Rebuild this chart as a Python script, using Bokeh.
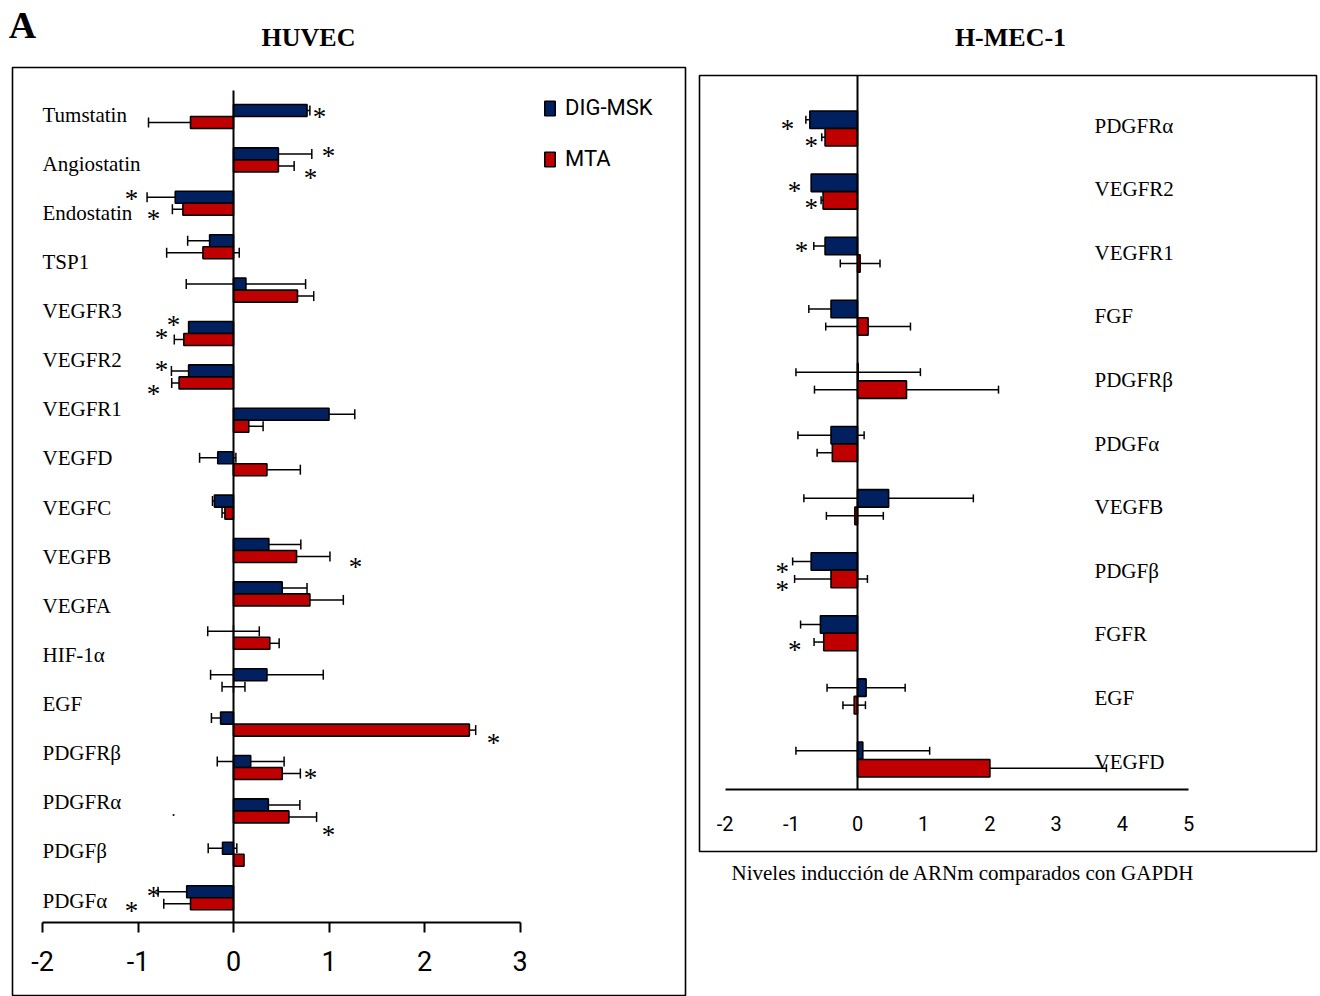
import numpy as np
from bokeh.plotting import figure
from bokeh.models import (ColumnDataSource, Range1d, LinearAxis, FixedTicker, Whisker,
                          TeeHead, Legend, LegendItem, Label, BoxAnnotation)
from bokeh.layouts import row
from bokeh.embed import file_html
from bokeh.resources import INLINE
from bokeh.core.properties import value

# ---------------- data: HUVEC (left) ----------------
left_labels = ["Tumstatin", "Angiostatin", "Endostatin", "TSP1", "VEGFR3", "VEGFR2", "VEGFR1",
               "VEGFD", "VEGFC", "VEGFB", "VEGFA", "HIF-1α", "EGF", "PDGFRβ", "PDGFRα",
               "PDGFβ", "PDGFα"]
left_dig = [0.77, 0.47, -0.61, -0.25, 0.13, -0.47, -0.47, 1.00, -0.165, -0.20, 0.37, 0.51,
            0.0, 0.35, -0.135, 0.18, 0.365, -0.115, -0.49]
left_dig_err = [0.03, 0.35, 0.295, 0.23, 0.625, 0.0, 0.18, 0.27, 0.19, 0.02, 0.335, 0.26,
                0.27, 0.59, 0.096, 0.35, 0.33, 0.15, 0.30]
left_mta = [-0.45, 0.47, -0.53, -0.32, 0.67, -0.52, -0.57, 0.16, 0.35, -0.09, 0.66, 0.80,
            0.38, 0.0, 2.47, 0.51, 0.58, 0.11, -0.45]
left_mta_err = [0.44, 0.165, 0.11, 0.38, 0.17, 0.10, 0.077, 0.15, 0.35, 0.03, 0.35, 0.35,
                0.098, 0.12, 0.066, 0.19, 0.29, 0.0, 0.28]
left_ticks = [-2, -1, 0, 1, 2, 3]
# significance marks (x value, row position)
left_sig_x = [0.90, 0.995, 0.806, -1.068, -0.838, -0.628, -0.754, -0.754, -0.838, 1.277,
              2.722, 0.806, 0.995, -0.838, -1.068]
left_sig_y = [-0.09, 0.80, 1.31, 1.80, 2.26, 4.70, 5.00, 5.74, 6.29, 10.28, 14.33, 15.14,
              16.45, 17.86, 18.20]

# ---------------- data: H-MEC-1 (right) ----------------
right_labels = ["PDGFRα", "VEGFR2", "VEGFR1", "FGF", "PDGFRβ", "PDGFα", "VEGFB", "PDGFβ",
                "FGFR", "EGF", "VEGFD"]
right_dig = [-0.72, -0.70, -0.49, -0.40, 0.01, -0.40, 0.47, -0.70, -0.56, 0.13, 0.08]
right_dig_err = [0.06, 0.0, 0.17, 0.335, 0.94, 0.5, 1.28, 0.28, 0.30, 0.59, 1.01]
right_mta = [-0.49, -0.52, 0.04, 0.16, 0.74, -0.38, -0.04, -0.40, -0.51, -0.05, 2.0]
right_mta_err = [0.05, 0.03, 0.30, 0.64, 1.39, 0.23, 0.43, 0.55, 0.146, 0.17, 1.76]
right_ticks = [-2, -1, 0, 1, 2, 3, 4, 5]
right_sig_x = [-1.057, -0.70, -0.952, -0.70, -0.846, -1.137, -1.137, -0.947]
right_sig_y = [-0.06, 0.20, 0.92, 1.19, 1.87, 6.96, 7.24, 8.19]

BLUE = "#002060"
RED = "#C00000"
SERIF = "Liberation Serif"
SANS = "Roboto"


def bars_panel(p, dig, dig_err, mta, mta_err, bar_h, cap):
    n = len(dig)
    idx = np.arange(n)
    rends = []
    for vals, errs, off, col in [(dig, dig_err, -bar_h / 2, BLUE), (mta, mta_err, bar_h / 2, RED)]:
        src = ColumnDataSource(dict(y=idx + off, v=vals))
        r = p.hbar(y="y", left=0, right="v", height=bar_h, source=src, fill_color=col,
                   line_color="black", line_width=1.6)
        rends.append(r)
        keep = [i for i in range(n) if errs[i] > 0]
        esrc = ColumnDataSource(dict(
            y=[idx[i] + off for i in keep],
            lo=[vals[i] - errs[i] for i in keep],
            hi=[vals[i] + errs[i] for i in keep]))
        w = Whisker(source=esrc, base="y", lower="lo", upper="hi", dimension="width",
                    line_color="black", line_width=1.5,
                    upper_head=TeeHead(size=cap, line_width=1.5, line_color="black"),
                    lower_head=TeeHead(size=cap, line_width=1.5, line_color="black"))
        p.add_layout(w)
    return rends


H = 996

# ================= LEFT: HUVEC =================
L_W = 692
L_PX = 95.5    # px per x unit
L_PY = 43.4    # px per row
L_X0, L_Y0 = 233, 116   # page px of x=0 and first row centre
pL = figure(width=L_W, height=H,
            x_range=Range1d((0 - L_X0) / L_PX, (L_W - L_X0) / L_PX),
            y_range=Range1d((H - L_Y0) / L_PY, (0 - L_Y0) / L_PY),
            x_axis_location=None, y_axis_location=None,
            toolbar_location=None, output_backend="svg",
            min_border_left=0, min_border_right=0, min_border_top=0, min_border_bottom=0,
            outline_line_color=None,
            background_fill_color="white", border_fill_color="white")
pL.grid.visible = False

pL.add_layout(BoxAnnotation(left=(12 - L_X0) / L_PX, right=(685 - L_X0) / L_PX,
                            top=(67 - L_Y0) / L_PY, bottom=(995 - L_Y0) / L_PY,
                            fill_alpha=0, line_color="black", line_alpha=1.0,
                            line_width=1.6, level="underlay"))

axis_y_L = (922 - L_Y0) / L_PY
axL = LinearAxis(fixed_location=axis_y_L, bounds=(-2, 3), ticker=FixedTicker(ticks=left_ticks),
                 axis_line_width=2, major_tick_out=10, major_tick_in=0,
                 minor_tick_out=0, minor_tick_in=0, major_tick_line_width=2,
                 major_label_text_font=SANS, major_label_text_font_size="27px",
                 major_label_text_color="black", major_label_standoff=18,
                 major_label_overrides={t: str(t) for t in left_ticks})
pL.add_layout(axL, "below")
zL = LinearAxis(fixed_location=0, bounds=((90 - L_Y0) / L_PY, axis_y_L),
                ticker=FixedTicker(ticks=[]), axis_line_width=2,
                major_tick_out=0, major_tick_in=0, minor_tick_out=0, minor_tick_in=0,
                major_label_text_font_size="0px")
pL.add_layout(zL, "left")

rL = bars_panel(pL, left_dig, left_dig_err, left_mta, left_mta_err, 12 / L_PY, 10)

lab_y = np.linspace((114 - L_Y0) / L_PY, (900 - L_Y0) / L_PY, len(left_labels))
pL.text(x=[-2.0] * len(left_labels), y=lab_y, text=left_labels, text_font=value(SERIF),
        text_font_size="21px", text_align="left", text_baseline="middle", text_color="black")
pL.text(x=left_sig_x, y=np.array(left_sig_y) + 4.5 / L_PY, text=["*"] * len(left_sig_x),
        text_font=value(SERIF), text_font_size="27px", text_align="center",
        text_baseline="middle", text_color="black")
pL.text(x=[-0.628], y=[(810 - L_Y0) / L_PY], text=["."], text_font=value(SERIF),
        text_font_size="16px", text_align="center", text_baseline="middle")

legL = Legend(items=[LegendItem(label="DIG-MSK", renderers=[rL[0]]),
                     LegendItem(label="MTA", renderers=[rL[1]])],
              location=(543, H - 171), margin=0, padding=0,
              border_line_color=None, background_fill_alpha=0,
              glyph_width=13, glyph_height=18, label_height=18,
              spacing=26, label_standoff=9, label_text_font=SANS,
              label_text_font_size="22px", label_text_color="black")
pL.add_layout(legL)

pL.add_layout(Label(x=22, y=H - 24, x_units="screen", y_units="screen", text="A",
                    text_font=SERIF, text_font_size="38px", text_font_style="bold",
                    text_color="black", text_align="center", text_baseline="middle"))
pL.add_layout(Label(x=308, y=H - 37, x_units="screen", y_units="screen",
                    text="HUVEC", text_font=SERIF, text_font_size="26px",
                    text_font_style="bold", text_color="black",
                    text_align="center", text_baseline="middle"))

# ================= RIGHT: H-MEC-1 =================
R_W = 1320 - L_W
R_PX = 66.2
R_PY = 63.1
R_X0, R_Y0 = 857, 128   # page px of x=0 and first row centre
pR = figure(width=R_W, height=H,
            x_range=Range1d((L_W - R_X0) / R_PX, (1320 - R_X0) / R_PX),
            y_range=Range1d((H - R_Y0) / R_PY, (0 - R_Y0) / R_PY),
            x_axis_location=None, y_axis_location=None,
            toolbar_location=None, output_backend="svg",
            min_border_left=0, min_border_right=0, min_border_top=0, min_border_bottom=0,
            outline_line_color=None,
            background_fill_color="white", border_fill_color="white")
pR.grid.visible = False

pR.add_layout(BoxAnnotation(left=(699 - R_X0) / R_PX, right=(1316 - R_X0) / R_PX,
                            top=(75 - R_Y0) / R_PY, bottom=(851 - R_Y0) / R_PY,
                            fill_alpha=0, line_color="black", line_alpha=1.0,
                            line_width=1.6, level="underlay"))

axis_y_R = (789 - R_Y0) / R_PY
axR = LinearAxis(fixed_location=axis_y_R, bounds=(-2, 5), ticker=FixedTicker(ticks=right_ticks),
                 axis_line_width=2, major_tick_out=0, major_tick_in=0,
                 minor_tick_out=0, minor_tick_in=0,
                 major_label_text_font=SANS, major_label_text_font_size="20px",
                 major_label_text_color="black", major_label_standoff=26,
                 major_label_overrides={t: str(t) for t in right_ticks})
pR.add_layout(axR, "below")
zR = LinearAxis(fixed_location=0, bounds=((75 - R_Y0) / R_PY, axis_y_R),
                ticker=FixedTicker(ticks=[]), axis_line_width=2,
                major_tick_out=0, major_tick_in=0, minor_tick_out=0, minor_tick_in=0,
                major_label_text_font_size="0px")
pR.add_layout(zR, "left")

bars_panel(pR, right_dig, right_dig_err, right_mta, right_mta_err, 17.5 / R_PY, 8)

rlab_y = np.linspace((125 - R_Y0) / R_PY, (761 - R_Y0) / R_PY, len(right_labels))
pR.text(x=[(1094 - R_X0) / R_PX] * len(right_labels), y=rlab_y, text=right_labels,
        text_font=value(SERIF), text_font_size="21px", text_align="left",
        text_baseline="middle", text_color="black")
pR.text(x=right_sig_x, y=np.array(right_sig_y) + 4.5 / R_PY, text=["*"] * len(right_sig_x),
        text_font=value(SERIF), text_font_size="27px", text_align="center",
        text_baseline="middle", text_color="black")

pR.add_layout(Label(x=1010 - L_W, y=H - 37, x_units="screen", y_units="screen",
                    text="H-MEC-1", text_font=SERIF, text_font_size="26px",
                    text_font_style="bold", text_color="black",
                    text_align="center", text_baseline="middle"))
pR.add_layout(Label(x=731 - L_W, y=H - 872, x_units="screen", y_units="screen",
                    text="Niveles inducción de ARNm comparados con GAPDH",
                    text_font=SERIF, text_font_size="21px", text_color="black",
                    text_align="left", text_baseline="middle"))

layout = row(pL, pR, spacing=0)
open("out.html", "w").write(file_html(layout, INLINE))
